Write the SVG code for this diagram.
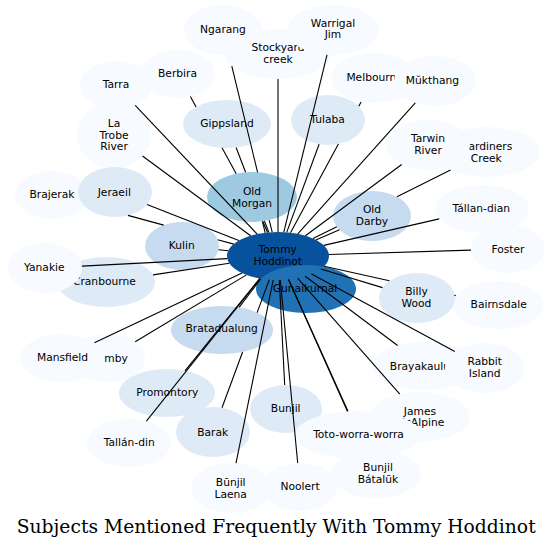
<svg xmlns="http://www.w3.org/2000/svg" width="553" height="549" viewBox="0 0 553 549">
<style>
.n text{font-family:"DejaVu Sans",sans-serif;font-size:10.7px;fill:#000;text-anchor:middle}
.l0{fill:#f7fbff}.l1{fill:#deebf7}.l2{fill:#c6dbef}.l3{fill:#9ecae1}.l5{fill:#2171b5}.l6{fill:#08519c}
#edges path{fill:none;stroke:#000;stroke-width:1.1}
.title{font-family:"DejaVu Serif",serif;font-size:17.8px;fill:#000;text-anchor:middle}
</style>
<rect width="553" height="549" fill="#fff"/>
<g id="nodes">
<g id="n-ngarang" class="n"><ellipse class="l0" cx="223" cy="30" rx="39" ry="25"/><text x="223" y="33">Ngarang</text></g>
<g id="n-stockyard" class="n"><ellipse class="l0" cx="278" cy="54" rx="53" ry="25"/><text x="278" y="51">Stockyard<tspan x="278" y="62.5">creek</tspan></text></g>
<g id="n-warrigal" class="n"><ellipse class="l0" cx="333" cy="30" rx="46" ry="25"/><text x="333" y="26.7">Warrigal<tspan x="333" y="38.3">Jim</tspan></text></g>
<g id="n-tarra" class="n"><ellipse class="l0" cx="116" cy="85" rx="36" ry="24"/><text x="116" y="88.3">Tarra</text></g>
<g id="n-berbira" class="n"><ellipse class="l0" cx="178" cy="74" rx="37" ry="24"/><text x="177.5" y="76.7">Berbira</text></g>
<g id="n-latrobe" class="n"><ellipse class="l0" cx="114" cy="135" rx="37" ry="33"/><text x="114" y="126.7">La<tspan x="114" y="138.7">Trobe</tspan><tspan x="114" y="150.3">River</tspan></text></g>
<g id="n-gippsland" class="n"><ellipse class="l1" cx="227" cy="124" rx="44" ry="24"/><text x="227" y="127.3">Gippsland</text></g>
<g id="n-melbourne" class="n"><ellipse class="l0" cx="374" cy="78" rx="43" ry="25"/><text x="374.6" y="81">Melbourne</text></g>
<g id="n-mukthang" class="n"><ellipse class="l0" cx="435" cy="81" rx="41" ry="25"/><text x="432.5" y="84">Mŭkthang</text></g>
<g id="n-tulaba" class="n"><ellipse class="l1" cx="328" cy="120" rx="37" ry="25"/><text x="327.5" y="123.3">Tulaba</text></g>
<g id="n-gardiners" class="n"><ellipse class="l0" cx="487" cy="152" rx="53" ry="25"/><text x="486.3" y="150">Gardiners<tspan x="486.3" y="161.7">Creek</tspan></text></g>
<g id="n-tarwin" class="n"><ellipse class="l0" cx="428" cy="145" rx="42" ry="25"/><text x="428" y="142.3">Tarwin<tspan x="428" y="154">River</tspan></text></g>
<g id="n-brajerak" class="n"><ellipse class="l0" cx="52" cy="195" rx="37" ry="24"/><text x="52" y="198">Brajerak</text></g>
<g id="n-jeraeil" class="n"><ellipse class="l1" cx="115" cy="192" rx="37" ry="25"/><text x="114.3" y="195.7">Jeraeil</text></g>
<g id="n-oldmorgan" class="n"><ellipse class="l3" cx="252" cy="197" rx="45" ry="25"/><text x="252" y="194.8">Old<tspan x="252" y="206.8">Morgan</tspan></text></g>
<g id="n-kulin" class="n"><ellipse class="l2" cx="182" cy="246" rx="37" ry="24"/><text x="181.7" y="249">Kulin</text></g>
<g id="n-cranbourne" class="n"><ellipse class="l1" cx="106" cy="282" rx="49" ry="25"/><text x="104.4" y="285">Cranbourne</text></g>
<g id="n-yanakie" class="n"><ellipse class="l0" cx="45" cy="268" rx="37" ry="25"/><text x="44.3" y="270.7">Yanakie</text></g>
<g id="n-tommy" class="n"><ellipse class="l6" cx="278" cy="256" rx="51" ry="24"/><text x="277.7" y="253.3">Tommy<tspan x="277.7" y="265">Hoddinot</tspan></text></g>
<g id="n-gunaikurnal" class="n"><ellipse class="l5" cx="306" cy="289" rx="50" ry="24"/><text x="305" y="291.7">Gunaikurnal</text></g>
<g id="n-olddarby" class="n"><ellipse class="l2" cx="372" cy="216" rx="39" ry="25"/><text x="372" y="213.3">Old<tspan x="372" y="225">Darby</tspan></text></g>
<g id="n-tallandian" class="n"><ellipse class="l0" cx="482" cy="209" rx="47" ry="24"/><text x="481.3" y="212.3">Tállan-dian</text></g>
<g id="n-foster" class="n"><ellipse class="l0" cx="508" cy="249" rx="37" ry="24"/><text x="508" y="253">Foster</text></g>
<g id="n-bairnsdale" class="n"><ellipse class="l0" cx="498" cy="305" rx="46" ry="24"/><text x="498.7" y="308.3">Bairnsdale</text></g>
<g id="n-billywood" class="n"><ellipse class="l1" cx="417" cy="298" rx="38" ry="25"/><text x="416.5" y="295">Billy<tspan x="416.5" y="306.7">Wood</tspan></text></g>
<g id="n-bratadualung" class="n"><ellipse class="l2" cx="222" cy="330" rx="51" ry="24"/><text x="221.7" y="332.3">Bratadualung</text></g>
<g id="n-mby" class="n"><ellipse class="l0" cx="108" cy="358" rx="37" ry="24"/><text x="104.3" y="362" style="text-anchor:start">mby</text></g>
<g id="n-mansfield" class="n"><ellipse class="l0" cx="62" cy="358" rx="42" ry="24"/><text x="62.5" y="361">Mansfield</text></g>
<g id="n-promontory" class="n"><ellipse class="l1" cx="167" cy="393" rx="48" ry="24"/><text x="167.3" y="396.3">Promontory</text></g>
<g id="n-tallandin" class="n"><ellipse class="l0" cx="129" cy="443" rx="42" ry="24"/><text x="129.3" y="446.3">Tallán-din</text></g>
<g id="n-barak" class="n"><ellipse class="l1" cx="213" cy="432" rx="37" ry="25"/><text x="212.7" y="435.7">Barak</text></g>
<g id="n-bunjillaena" class="n"><ellipse class="l0" cx="231" cy="488" rx="40" ry="25"/><text x="230.7" y="485.7">Būnjil<tspan x="230.7" y="497.5">Laena</tspan></text></g>
<g id="n-brayakaulung" class="n"><ellipse class="l0" cx="425" cy="366" rx="53" ry="24"/><text x="426.7" y="370">Brayakaulung</text></g>
<g id="n-rabbit" class="n"><ellipse class="l0" cx="485" cy="368" rx="40" ry="25"/><text x="484.7" y="364.7">Rabbit<tspan x="484.7" y="376.7">Island</tspan></text></g>
<g id="n-james" class="n"><ellipse class="l0" cx="420" cy="417" rx="50" ry="25"/><text x="420" y="414.7">James<tspan x="420" y="426.3">McAlpine</tspan></text></g>
<g id="n-bunjil" class="n"><ellipse class="l1" cx="286" cy="409" rx="36" ry="24"/><text x="285.7" y="412.3">Bunjil</text></g>
<g id="n-toto" class="n"><ellipse class="l0" cx="358" cy="435" rx="63" ry="24"/><text x="358.5" y="438">Toto-worra-worra</text></g>
<g id="n-noolert" class="n"><ellipse class="l0" cx="300" cy="487" rx="37" ry="24"/><text x="300" y="489.7">Noolert</text></g>
<g id="n-batalUk" class="n"><ellipse class="l0" cx="376" cy="474" rx="45" ry="24"/><text x="378" y="470.8">Bunjil<tspan x="378" y="483">Bátalūk</tspan></text></g>
</g>
<g id="edges">
<path d="M231.8,66.2 L257.6,172.3 M269.2,220.1 L272.2,232.2"/>
<path d="M278,79 L278,232"/>
<path d="M327,54.8 L283.8,232.2"/>
<path d="M190.4,96.6 L196.1,106.9 M222,147.8 L236.2,173.7 M262.4,221.3 L265.2,232.8"/>
<path d="M135.2,105.3 L257.2,234.1"/>
<path d="M142.5,156 L250.6,235.8"/>
<path d="M236.1,147.5 L245.6,172.3 M264.4,221 L268.9,232.4"/>
<path d="M361.1,101.9 L358.8,106.2 M338.4,144 L290.5,232.7"/>
<path d="M415.3,102.9 L297.8,233.9"/>
<path d="M319.1,144.3 L286.7,232.4"/>
<path d="M401.7,164.5 L305.4,235.8"/>
<path d="M450.5,170.1 L397,196.8 M336.8,226.8 L313,238.6"/>
<path d="M127.9,215.4 L163.7,225.1 M217.7,239.7 L233.8,244.1"/>
<path d="M147,204.6 L238.8,240.6"/>
<path d="M262.7,221.3 L267.6,232.5"/>
<path d="M218.5,249.8 L228.2,250.8"/>
<path d="M81.9,266.1 L227.3,258.6"/>
<path d="M153,274.9 L229.4,263.3"/>
<path d="M339.5,229.8 L315.8,239.9"/>
<path d="M439.2,218.9 L323.8,245.4"/>
<path d="M471,250.1 L328.9,254.5"/>
<path d="M382.5,287.6 L320.9,269"/>
<path d="M324.1,266.3 L389.4,280.8 M454.3,295.2 L455.7,295.6"/>
<path d="M239.1,307.4 L260.9,278.6"/>
<path d="M94.4,342.7 L242,273"/>
<path d="M135.2,341.7 L246.5,274.9"/>
<path d="M185,370.8 L259.8,278.4"/>
<path d="M146.4,421.2 L260.1,278.5"/>
<path d="M222,407.7 L242.6,352 M257.1,312.6 L269.3,279.6"/>
<path d="M236,463.2 L273.2,279.9"/>
<path d="M397.6,345.5 L305.2,276.3"/>
<path d="M454.8,351.6 L311.5,274.1"/>
<path d="M399.8,394.1 L297.6,278.2"/>
<path d="M284.7,385 L279.3,280"/>
<path d="M347.4,411.4 L288.5,279.5"/>
<path d="M297.7,463 L280.3,280"/>
<path d="M348,411.3 L288.6,279.5"/>
</g>
<text class="title" x="276.2" y="533" textLength="519" lengthAdjust="spacingAndGlyphs">Subjects Mentioned Frequently With Tommy Hoddinot</text>
</svg>
